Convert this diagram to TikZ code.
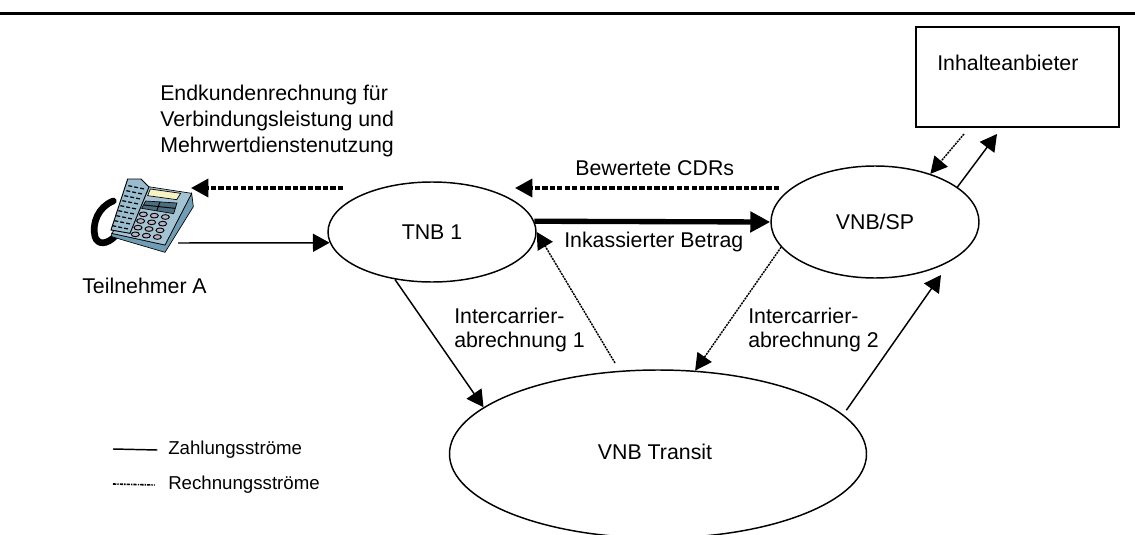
\documentclass[tikz,border=0pt]{standalone}
\usepackage{fontspec}
\setmainfont{Liberation Sans}
\usetikzlibrary{shapes.geometric,arrows.meta}
\definecolor{phoneTop}{HTML}{A4C4D4}
\definecolor{phoneSide}{HTML}{6E9DB5}
\definecolor{phoneKey}{HTML}{B9B2C4}
\definecolor{phoneDisplay}{HTML}{F6F2C4}
\begin{document}
\begin{tikzpicture}[x=0.75pt,y=-0.75pt,
    netz/.style = {ellipse,draw,line width=1.1pt,inner sep=0pt,
        font=\fontsize{16}{19.5}\selectfont},
    txt/.style = {anchor=west,inner sep=0pt,align=left,
        font=\fontsize{16}{19.5}\selectfont},
    legende/.style = {anchor=west,inner sep=0pt,
        font=\fontsize{14}{17}\selectfont},
    zahlung/.style = {line width=1.1pt,-{Triangle[length=12.5pt,width=13.5pt]}},
    rechnung/.style = {line width=1.1pt,dash pattern=on 1.5pt off 0.7pt,
        -{Triangle[length=12.5pt,width=13pt]}},
    rechnungdick/.style = {line width=2.6pt,dash pattern=on 4pt off 1.6pt,
        -{Triangle[length=13pt,width=13.5pt]}},
    zahlungdick/.style = {line width=4pt,-{Triangle[length=15pt,width=15pt]}}]

\clip (0,0) rectangle (1135,535);

% Top rule
\draw[line width=2.3pt] (0,13.5) -- (1135,13.5);

% Networks
\node[netz,minimum width=156pt,minimum height=75pt] (tnb) at (432,232) {TNB 1};
\node[netz,minimum width=156pt,minimum height=84pt] (vnbsp) at (875,222) {VNB/SP};
\node[netz,minimum width=312.75pt,minimum height=126pt] (transit) at (658,454) {};
\node[txt,anchor=center] (transittext) at (655,452) {VNB Transit};

% Content provider
\node[draw,line width=1.1pt,minimum width=152.25pt,minimum height=75pt] (inhalte) at (1017.5,77) {};
\node[txt] (inhaltetext) at (937,63) {Inhalteanbieter};

% Telephone
\node[minimum width=66pt,minimum height=56pt,inner sep=0pt] (phone) at (149,215) {};
\begin{scope}[shift={(85,165)},x=0.25pt,y=-0.25pt]
    \draw[line width=5pt,line cap=round] (85,108) .. controls (40,125) and (20,175) .. (30,215)
        .. controls (38,240) and (65,240) .. (92,212);
    \fill[phoneSide,draw=black,line width=0.5pt] (320,85) -- (325,125) -- (240,262) -- (80,215) -- (80,205) -- (240,240) -- cycle;
    \fill[phoneTop,draw=black,line width=0.5pt] (190,65) -- (320,85) -- (240,240) -- (80,205) -- cycle;
    \fill[phoneTop!80!phoneSide,draw=black,line width=0.7pt] (128,42) -- (168,42) -- (192,66) -- (135,205) -- (78,195) -- cycle;
    \foreach \i in {0,...,8}
        \draw[line width=0.9pt,dash pattern=on 3pt off 1.5pt] ({130-6*\i},{62+15*\i}) -- ({178-6*\i},{72+15*\i});
    \fill[phoneDisplay,draw=black,line width=0.5pt] (196,72) -- (287,85) -- (275,104) -- (188,92) -- cycle;
    \fill[phoneSide!70!black,draw=black,line width=0.5pt] (182,108) -- (276,114) -- (266,146) -- (170,130) -- cycle;
    \draw[line width=0.7pt] (176,120) -- (270,130) (225,110) -- (215,138);
    \foreach \r in {0,...,3}
        \foreach \c in {0,1,2}
            \fill[phoneKey,draw=black,line width=0.7pt] ({175+33*\c-8*\r},{148+4*\c+20*\r}) ellipse (12 and 7);
\end{scope}

% Free ends
\coordinate (phoneOut) at (178,243);
\coordinate (phoneIn) at (191,188);
\coordinate (rechnungStart) at (343,188);
\coordinate (cdrTip) at (515,188);
\coordinate (cdrStart) at (779,188);
\coordinate (transitUp) at (615,363);
\coordinate (vnbspIn) at (941,275);
\coordinate (inhalteIn) at (997,134);
\coordinate (inhalteOut) at (964,134);
\coordinate (legendeA) at (113,449);
\coordinate (legendeB) at (113,484);

% Flows
\draw[zahlung] (phoneOut) -- (tnb.186);
\draw[rechnungdick] (rechnungStart) -- (phoneIn);
\draw[rechnungdick] (cdrStart) -- (cdrTip);
\draw[zahlungdick] (tnb.6) -- (vnbsp.180);
\draw[rechnung] (transitUp) -- (tnb.0);
\draw[zahlung] (tnb.232) -- (transit.165);
\draw[rechnung] (vnbsp.195) -- (transit.66);
\draw[zahlung,shorten <=4pt] (transit.12.5) -- (vnbspIn);
\draw[zahlung] (vnbsp.23) -- (inhalteIn);
\draw[rechnung] (inhalteOut) -- (vnbsp.41);

% Labels
\node[txt] (endkunden) at (160,121) {Endkundenrechnung für\\Verbindungsleistung und\\Mehrwertdienstenutzung};
\node[txt] (teilnehmer) at (82,286) {Teilnehmer A};
\node[txt] (cdr) at (575,168) {Bewertete CDRs};
\node[txt] (betrag) at (564,242) {Inkassierter Betrag};
\node[txt] (inter1) at (454,330) {Intercarrier-\\[-1.5pt]abrechnung 1};
\node[txt] (inter2) at (748,330) {Intercarrier-\\[-1.5pt]abrechnung 2};

% Legend
\node[legende] (zahlungen) at (168,450) {Zahlungsströme};
\node[legende] (rechnungen) at (168,485) {Rechnungsströme};
\draw[line width=1.1pt] (legendeA) -- ([xshift=-8pt] zahlungen.west);
\draw[line width=1.2pt,dash pattern=on 2.5pt off 0.8pt on 1pt off 0.8pt] (legendeB) -- ([xshift=-10pt] rechnungen.west);

\end{tikzpicture}
\end{document}
